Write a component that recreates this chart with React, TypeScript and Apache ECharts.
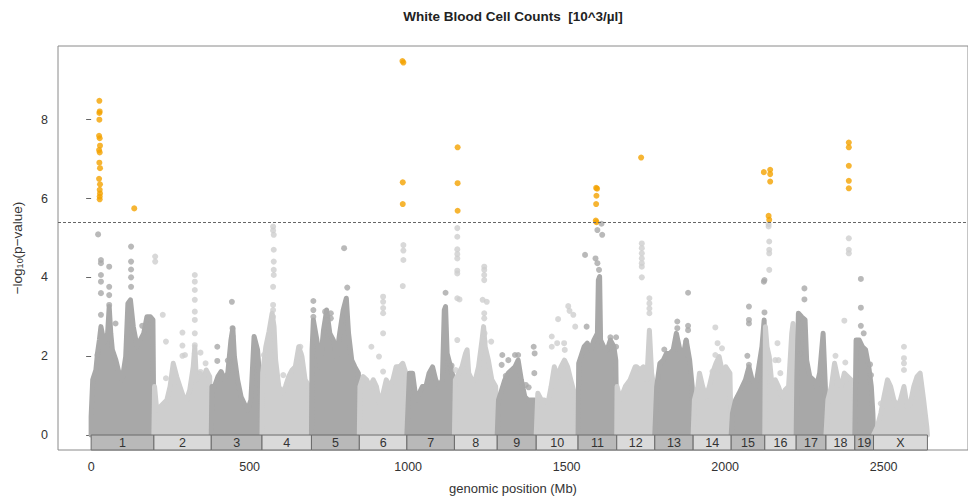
import React, { useEffect, useRef } from "react";
import * as echarts from "echarts";

const chromLabels = ["1", "2", "3", "4", "5", "6", "7", "8", "9", "10", "11", "12", "13", "14", "15", "16", "17", "18", "19", "X"];
const chromLengths = [198, 181, 160, 156, 151, 150, 150, 135, 123, 132, 122, 120, 121, 120, 106, 99, 94, 91, 59, 170];
const xTicks = [0, 500, 1000, 1500, 2000, 2500];
const yTicks = [0, 2, 4, 6, 8];
const threshold = 5.4;

// significant SNPs (orange)
const significantPoints = [
  [26, 8.48], [27, 8.21], [26, 8.17], [26, 8.0], [25, 7.59], [27, 7.53], [28, 7.34], [25, 7.23], [27, 7.17],
  [26, 6.91], [28, 6.77], [25, 6.5], [28, 6.36], [27, 6.22], [28, 6.13], [27, 6.05], [27, 5.98], [136, 5.75],
  [982, 9.49], [985, 9.45], [983, 6.41], [983, 5.86],
  [1156, 7.3], [1156, 6.39], [1156, 5.69],
  [1593, 6.27], [1596, 6.25], [1594, 6.07], [1593, 5.86], [1592, 5.44], [1594, 5.4],
  [1735, 7.04],
  [2122, 6.67], [2142, 6.73], [2142, 6.62], [2142, 6.43], [2137, 5.56], [2139, 5.46],
  [2390, 7.42], [2390, 7.3], [2390, 6.83], [2390, 6.45], [2390, 6.26],
];

// individually visible gray SNPs above the dense mass
const grayPoints = [
  [22, 5.09], [31, 4.44], [31, 4.36], [57, 4.27], [31, 4.06], [31, 3.89], [31, 3.6], [57, 3.76], [57, 3.55], [31, 3.05],
  [126, 4.78], [126, 4.4], [126, 4.2], [126, 4.0], [126, 3.76], [161, 2.77], [77, 2.83], [20, 2.03], [57, 3.3],
  [202, 4.53], [202, 4.4], [226, 3.05], [236, 2.37], [236, 1.44], [288, 2.6], [288, 2.27], [296, 2.03], [288, 2.01],
  [327, 4.06], [327, 3.89], [327, 3.68], [327, 3.43], [327, 3.13], [327, 2.92], [327, 2.58], [327, 2.28], [327, 2.07],
  [345, 2.09], [361, 1.82], [345, 1.6],
  [444, 3.38], [446, 2.71], [446, 2.5], [398, 2.24], [398, 1.88], [431, 1.89],
  [574, 5.29], [574, 5.19], [576, 5.08], [576, 4.7], [576, 4.4], [576, 4.19], [576, 4.06], [574, 3.76], [574, 3.3],
  [574, 3.17], [574, 3.0], [545, 2.03], [606, 1.52], [660, 2.24], [660, 2.07],
  [798, 4.74], [808, 3.74], [701, 3.4], [701, 3.17], [701, 3.0], [738, 3.13], [756, 3.09], [756, 2.96], [743, 2.9],
  [921, 3.51], [921, 3.38], [921, 3.22], [921, 3.09], [921, 2.58], [921, 1.61], [884, 2.24], [908, 1.99],
  [985, 4.82], [985, 4.68], [985, 4.44], [983, 3.78], [973, 1.73],
  [1118, 3.61], [1137, 1.76],
  [1155, 5.25], [1155, 5.03], [1155, 4.71], [1155, 4.59], [1155, 4.48], [1155, 4.17], [1155, 4.1], [1155, 3.47],
  [1162, 3.44], [1155, 2.41], [1150, 1.65], [1240, 4.27], [1240, 4.19], [1240, 4.06], [1240, 3.93], [1235, 3.43],
  [1248, 3.38], [1240, 3.09], [1240, 2.96], [1241, 2.58], [1241, 2.37], [1262, 2.37],
  [1297, 2.03], [1316, 1.9], [1295, 1.78], [1337, 2.03], [1347, 2.03], [1308, 1.5], [1371, 1.27], [1380, 1.21],
  [1396, 2.24], [1399, 2.07], [1398, 1.57],
  [1453, 2.5], [1453, 2.24], [1470, 2.33], [1473, 2.94], [1505, 3.27], [1509, 3.15], [1521, 3.05], [1527, 2.75],
  [1492, 2.33], [1494, 2.16],
  [1558, 4.57], [1591, 4.48], [1597, 4.36], [1602, 4.19], [1597, 5.2], [1612, 5.08], [1610, 5.36], [1563, 2.75],
  [1638, 2.48], [1656, 2.48], [1656, 2.24], [1638, 2.24],
  [1737, 4.86], [1737, 4.74], [1737, 4.61], [1737, 4.48], [1737, 4.36], [1737, 4.27], [1737, 4.0],
  [1761, 3.47], [1761, 3.34], [1761, 3.21], [1761, 3.09],
  [1808, 2.17], [1849, 2.88], [1849, 2.71], [1883, 3.61], [1883, 2.77], [1883, 2.66], [1877, 2.37],
  [1969, 2.73], [1976, 2.33], [1990, 2.2], [1969, 2.03], [1960, 1.61],
  [2075, 3.26], [2075, 2.92], [2075, 2.83], [2070, 2.01], [2075, 1.78], [2124, 3.93], [2122, 3.89], [2124, 3.11],
  [2139, 4.91], [2139, 4.7], [2139, 4.61], [2139, 4.19], [2137, 5.29], [2137, 5.35], [2165, 2.33], [2168, 1.9],
  [2158, 1.9], [2174, 1.57],
  [2250, 3.72], [2250, 3.44], [2236, 2.07],
  [2390, 4.99], [2390, 4.7], [2390, 4.61], [2376, 2.9], [2348, 2.01], [2379, 1.84],
  [2428, 3.96], [2428, 3.23], [2428, 2.77], [2437, 2.58], [2457, 1.79], [2460, 1.52],
  [2564, 2.24], [2564, 1.95], [2564, 1.82], [2564, 1.65], [2491, 0.8],
];

// upper edge of the dense mass of SNPs (position Mb, -log10 p)
const cloudTop = [
  [0, 0.47], [5, 1.4], [15, 1.65], [20, 2.07], [26, 2.41], [31, 2.75], [41, 2.33], [52, 2.58], [57, 3.26], [62, 2.58],
  [67, 2.16], [78, 1.9], [88, 1.57], [98, 1.4], [109, 1.99], [116, 3.34], [124, 3.43], [133, 2.75], [145, 2.24],
  [155, 2.41], [166, 2.58], [176, 3.0], [187, 3.0], [195, 2.92],
  [200, 1.23], [207, 0.63], [218, 0.72], [228, 0.8], [239, 0.89], [249, 1.23], [259, 1.82], [270, 1.48], [280, 1.23],
  [291, 0.97], [301, 0.89], [311, 1.14], [322, 1.73], [327, 2.24], [332, 1.4], [343, 1.57], [353, 1.4], [363, 1.65],
  [374, 1.48],
  [381, 1.23], [389, 1.23], [400, 1.48], [410, 1.61], [421, 1.4], [431, 1.57], [441, 2.41], [447, 2.71], [452, 1.99],
  [462, 1.4], [473, 0.97], [483, 0.8], [493, 0.63], [504, 0.89], [514, 2.5], [525, 2.16], [532, 1.4],
  [541, 1.57], [551, 2.24], [561, 2.62], [571, 3.09], [577, 2.75], [582, 1.9], [592, 1.23], [603, 1.06], [613, 1.23],
  [623, 1.48], [634, 1.65], [644, 1.73], [655, 2.24], [665, 1.99], [675, 1.4], [688, 1.23],
  [697, 2.16], [701, 2.92], [712, 2.41], [722, 1.73], [733, 2.66], [743, 3.17], [753, 2.58], [764, 2.41], [774, 1.99],
  [784, 2.58], [795, 3.17], [805, 3.47], [812, 2.58], [822, 1.9], [832, 1.73], [843, 1.57],
  [848, 1.23], [858, 1.48], [869, 1.4], [879, 1.23], [890, 1.4], [900, 1.23], [910, 0.8], [921, 1.06], [931, 1.4],
  [942, 1.23], [952, 1.4], [962, 1.73], [973, 1.73], [983, 1.82], [993, 1.57],
  [1004, 1.57], [1014, 1.57], [1025, 0.89], [1035, 1.06], [1045, 1.23], [1056, 1.23], [1066, 1.57], [1077, 1.73],
  [1087, 1.4], [1097, 1.23], [1108, 1.4], [1114, 3.17], [1118, 3.26], [1123, 2.07], [1134, 1.73], [1144, 1.4],
  [1149, 1.4], [1160, 1.57], [1170, 1.73], [1181, 2.07], [1186, 2.16], [1191, 1.57], [1201, 1.4], [1212, 1.4],
  [1222, 1.73], [1233, 2.41], [1238, 2.75], [1243, 2.24], [1253, 1.9], [1264, 1.4], [1276, 1.23],
  [1285, 0.89], [1295, 1.14], [1305, 1.4], [1316, 1.57], [1326, 1.65], [1337, 1.73], [1347, 1.9], [1357, 1.4],
  [1368, 0.97], [1378, 0.89], [1389, 0.89], [1399, 0.89],
  [1409, 1.06], [1420, 0.89], [1430, 0.89], [1441, 0.8], [1451, 1.23], [1461, 1.73], [1472, 1.48], [1482, 1.73],
  [1493, 1.9], [1503, 1.73], [1513, 1.4], [1524, 1.06],
  [1538, 1.82], [1545, 1.99], [1555, 2.24], [1565, 2.33], [1576, 2.16], [1586, 2.41], [1597, 2.58], [1600, 3.93],
  [1604, 4.02], [1607, 2.41], [1617, 2.24], [1628, 2.16], [1638, 2.41], [1649, 2.24], [1655, 1.9],
  [1659, 1.23], [1669, 0.89], [1685, 1.23], [1700, 1.4], [1716, 1.73], [1721, 1.73], [1732, 1.65], [1742, 1.73],
  [1753, 1.4], [1761, 2.66], [1768, 1.57], [1775, 1.23],
  [1784, 1.23], [1794, 1.82], [1805, 1.9], [1815, 2.07], [1825, 2.07], [1836, 2.16], [1846, 2.58], [1857, 2.16],
  [1867, 1.99], [1877, 2.41], [1888, 1.9], [1896, 1.23],
  [1903, 0.89], [1914, 1.23], [1919, 1.57], [1929, 1.23], [1940, 0.97], [1950, 1.23], [1960, 1.57], [1971, 1.82],
  [1981, 1.99], [1992, 1.57], [2002, 1.73], [2015, 1.57],
  [2023, 0.55], [2033, 0.89], [2044, 1.06], [2054, 1.23], [2064, 1.4], [2075, 1.73], [2085, 1.4], [2096, 1.23],
  [2106, 1.73], [2116, 2.24], [2123, 2.92],
  [2127, 2.75], [2132, 2.24], [2139, 1.99], [2148, 1.23], [2158, 1.4], [2168, 1.23], [2179, 0.97], [2189, 1.14],
  [2200, 1.23], [2210, 2.58], [2214, 2.83], [2218, 1.73],
  [2226, 1.4], [2231, 3.09], [2241, 3.0], [2252, 2.92], [2257, 1.9], [2267, 1.48], [2278, 1.4], [2288, 1.23],
  [2298, 1.57], [2309, 2.58], [2316, 1.23],
  [2324, 0.89], [2335, 1.23], [2345, 1.82], [2356, 1.4], [2366, 1.23], [2376, 1.57], [2387, 1.48], [2397, 1.4],
  [2405, 1.06],
  [2413, 2.41], [2423, 2.41], [2433, 2.24], [2443, 2.16], [2453, 1.73], [2461, 1.23], [2466, 0.55],
  [2480, 0.21], [2491, 0.55], [2501, 0.97], [2512, 1.4], [2522, 1.23], [2532, 0.89], [2543, 0.72], [2553, 0.89],
  [2564, 1.23], [2574, 0.72], [2584, 0.8], [2595, 1.23], [2605, 1.48], [2615, 1.57], [2626, 0.89], [2636, 0.21],
];

const chromStarts: number[] = [];
{
  let acc = 0;
  for (const len of chromLengths) {
    chromStarts.push(acc);
    acc += len;
  }
}

function chromIndexOf(pos: number): number {
  for (let i = 0; i < chromLengths.length; i++) {
    if (pos < chromStarts[i] + chromLengths[i]) return i;
  }
  return chromLengths.length - 1;
}

const X_MIN = -104.5;
const X_MAX = 2766;
const Y_MIN = -0.38;
const Y_MAX = 9.87;

const DARK = "#a8a8a8";
const LIGHT = "#cecece";
const BOX_DARK = "#b9b9b9";
const BOX_LIGHT = "#dadada";
const ORANGE = "#f4a300";
const FONT = "Liberation Sans, Arial, sans-serif";

export default function App() {
  const ref = useRef<HTMLDivElement | null>(null);

  useEffect(() => {
    if (!ref.current) return;
    const chart = echarts.init(ref.current, null, { renderer: "svg" });

    const darkPts = grayPoints.filter((p) => chromIndexOf(p[0]) % 2 === 0);
    const lightPts = grayPoints.filter((p) => chromIndexOf(p[0]) % 2 === 1);

    chart.setOption({
      animation: false,
      backgroundColor: "#ffffff",
      textStyle: { fontFamily: FONT },
      grid: {
        left: 58,
        top: 46,
        right: -10,
        bottom: 50,
        show: true,
        borderColor: "#8a8a8a",
        borderWidth: 1,
      },
      xAxis: {
        type: "value",
        min: X_MIN,
        max: X_MAX,
        splitLine: { show: false },
        axisLine: { show: false },
        axisTick: { show: true, customValues: xTicks, length: 5, lineStyle: { color: "#666" } },
        axisLabel: {
          customValues: xTicks,
          margin: 10,
          fontSize: 12.5,
          color: "#333",
          fontFamily: FONT,
          formatter: (v: number) => String(v),
        },
      },
      yAxis: {
        type: "value",
        min: Y_MIN,
        max: Y_MAX,
        splitLine: { show: false },
        axisLine: { show: false },
        axisTick: { show: true, customValues: yTicks, length: 5, lineStyle: { color: "#666" } },
        axisLabel: {
          customValues: yTicks,
          margin: 10,
          fontSize: 12.5,
          color: "#333",
          fontFamily: FONT,
          formatter: (v: number) => String(v),
        },
        name: "−log{sub|10}(p−value)",
        nameLocation: "middle",
        nameGap: 34,
        nameTextStyle: {
          fontSize: 13.5,
          color: "#333",
          fontFamily: FONT,
          rich: { sub: { fontSize: 9, verticalAlign: "bottom", color: "#333", fontFamily: FONT } },
        },
      },
      graphic: [
        {
          type: "text",
          x: 513,
          y: 16,
          style: {
            text: "White Blood Cell Counts  [10^3/µl]",
            fontSize: 13.5,
            fontWeight: "bold",
            fontFamily: FONT,
            fill: "#222",
            align: "center",
            verticalAlign: "middle",
          },
        },
        {
          type: "text",
          x: 513,
          y: 488,
          style: {
            text: "genomic position (Mb)",
            fontSize: 13,
            fontFamily: FONT,
            fill: "#333",
            align: "center",
            verticalAlign: "middle",
          },
        },
      ],
      series: [
        {
          type: "custom",
          name: "cloud",
          silent: true,
          z: 1,
          data: chromLabels.map((_, i) => [i]),
          renderItem: (params: any, api: any) => {
            const i = api.value(0);
            const s = chromStarts[i];
            const e = s + chromLengths[i];
            const pts = cloudTop.filter((p) => p[0] >= s && p[0] < e);
            const poly = [[s, 0], ...pts, [e, 0]].map((p) => api.coord(p));
            const c = i % 2 === 0 ? DARK : LIGHT;
            return {
              type: "polygon",
              shape: { points: poly },
              style: { fill: c, stroke: c, lineWidth: 5, lineJoin: "round" },
            };
          },
        },
        {
          type: "scatter",
          name: "dark",
          silent: true,
          z: 2,
          symbolSize: 6,
          itemStyle: { color: DARK },
          data: darkPts,
        },
        {
          type: "scatter",
          name: "light",
          silent: true,
          z: 2,
          symbolSize: 6,
          itemStyle: { color: LIGHT },
          data: lightPts,
        },
        {
          type: "scatter",
          name: "significant",
          silent: true,
          z: 3,
          symbolSize: 6,
          itemStyle: { color: ORANGE },
          data: significantPoints,
          markLine: {
            silent: true,
            symbol: ["none", "none"],
            label: { show: false },
            lineStyle: { color: "#666", type: [3, 2], width: 1 },
            data: [{ yAxis: threshold }],
          },
        },
        {
          type: "custom",
          name: "chromosomes",
          silent: true,
          z: 4,
          data: chromLabels.map((_, i) => [i]),
          renderItem: (params: any, api: any) => {
            const i = api.value(0);
            const s = chromStarts[i];
            const e = s + chromLengths[i];
            const p1 = api.coord([s, 0]);
            const p2 = api.coord([e, Y_MIN]);
            return {
              type: "group",
              children: [
                {
                  type: "rect",
                  shape: { x: p1[0], y: p1[1], width: p2[0] - p1[0], height: p2[1] - p1[1] },
                  style: { fill: i % 2 === 0 ? BOX_DARK : BOX_LIGHT, stroke: "#6b6b6b", lineWidth: 1 },
                },
                {
                  type: "text",
                  style: {
                    text: chromLabels[i],
                    x: (p1[0] + p2[0]) / 2,
                    y: (p1[1] + p2[1]) / 2 + 0.5,
                    align: "center",
                    verticalAlign: "middle",
                    fontSize: 12.5,
                    fontFamily: FONT,
                    fill: "#333",
                  },
                },
              ],
            };
          },
        },
      ],
    });

    return () => chart.dispose();
  }, []);

  return <div ref={ref} style={{ position: "fixed", left: 0, top: 0, width: 968, height: 500 }} />;
}
